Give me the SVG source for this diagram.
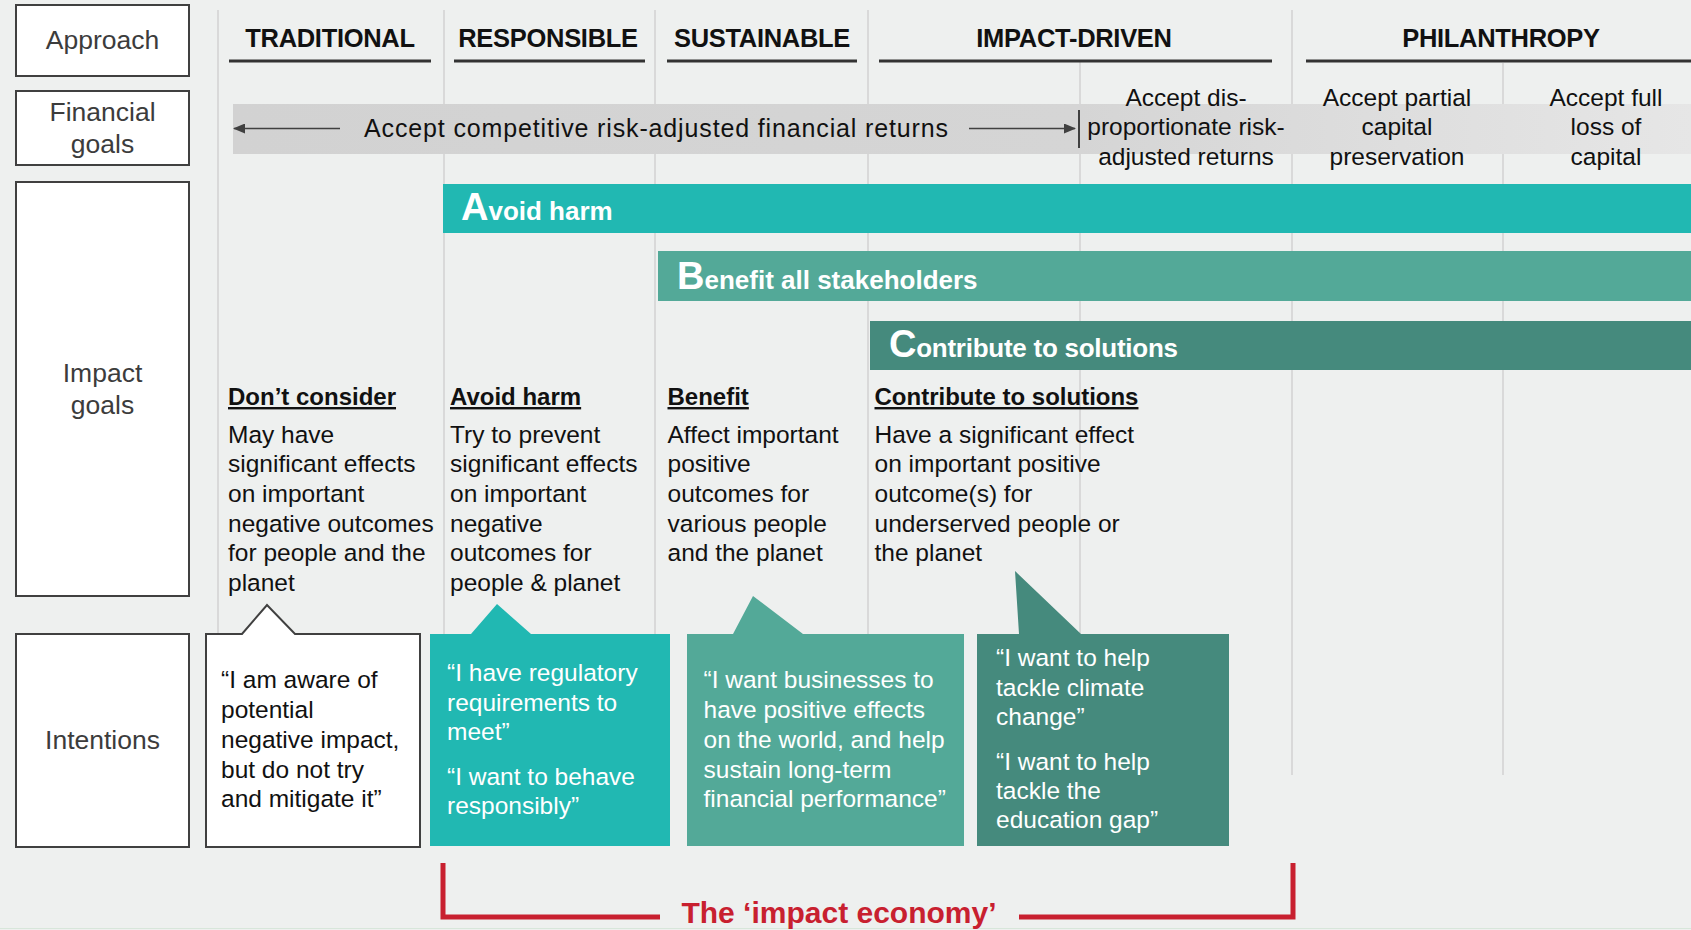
<svg xmlns="http://www.w3.org/2000/svg" width="1691" height="930" viewBox="0 0 1691 930">
<defs>
<linearGradient id="bandGrad" x1="233" y1="0" x2="1691" y2="0" gradientUnits="userSpaceOnUse">
<stop offset="0" stop-color="#d2d2d2"/>
<stop offset="0.58" stop-color="#d5d5d5"/>
<stop offset="1" stop-color="#e6e6e6"/>
</linearGradient>
<marker id="arrowHead" viewBox="0 0 12 10" refX="11" refY="5" markerWidth="12" markerHeight="10" markerUnits="userSpaceOnUse" orient="auto-start-reverse">
<path d="M0,0 L12,5 L0,10 z" fill="#404040"/>
</marker>
<style>
.lbl{fill:#fff;stroke:#404040;stroke-width:2}
.lbltxt{font-family:"Liberation Sans",Arial,sans-serif;font-size:26.5px;fill:#3c3c3c;text-anchor:middle}
.hdr{font-family:"Liberation Sans",Arial,sans-serif;font-size:25.5px;font-weight:bold;fill:#111;text-anchor:middle;letter-spacing:-0.3px}
.hline{stroke:#333;stroke-width:3}
.grid{stroke:#d9d9d9;stroke-width:2}
.fin{font-family:"Liberation Sans",Arial,sans-serif;font-size:25px;fill:#111}
.finc{font-family:"Liberation Sans",Arial,sans-serif;font-size:24.5px;fill:#111;text-anchor:middle}
.bar{font-family:"Liberation Sans",Arial,sans-serif;font-size:26px;font-weight:bold;fill:#fff}
.big{font-size:38px}
.ghd{font-family:"Liberation Sans",Arial,sans-serif;font-size:24px;font-weight:bold;fill:#111;text-decoration:underline}
.body{font-family:"Liberation Sans",Arial,sans-serif;font-size:24.5px;fill:#111}
.wbody{font-family:"Liberation Sans",Arial,sans-serif;font-size:24.5px;fill:#fff}
.conn{stroke:#404040;stroke-width:1.6;fill:none}
.red{stroke:#c8202f;stroke-width:5;fill:none}
.redtxt{font-family:"Liberation Sans",Arial,sans-serif;font-size:30px;font-weight:bold;fill:#c8202f;text-anchor:middle}
</style>
</defs>

<rect x="0" y="0" width="1691" height="930" fill="#eef0ef"/>
<line x1="0" y1="928.5" x2="1691" y2="928.5" stroke="#d7e6da" stroke-width="1"/>

<g id="grid">
<line class="grid" x1="218" y1="10" x2="218" y2="634"/>
<line class="grid" x1="444" y1="10" x2="444" y2="634"/>
<line class="grid" x1="655" y1="10" x2="655" y2="634"/>
<line class="grid" x1="868" y1="10" x2="868" y2="634"/>
<line class="grid" x1="1080" y1="62" x2="1080" y2="634"/>
<line class="grid" x1="1292" y1="10" x2="1292" y2="775"/>
<line class="grid" x1="1503" y1="63" x2="1503" y2="775"/>
</g>

<g id="label-approach">
<rect class="lbl" x="16" y="5" width="173" height="71"/>
<text class="lbltxt" x="102.5" y="49">Approach</text>
</g>
<g id="label-financial">
<rect class="lbl" x="16" y="91" width="173" height="74"/>
<text class="lbltxt" x="102.5" y="121">Financial</text>
<text class="lbltxt" x="102.5" y="153">goals</text>
</g>
<g id="label-impact">
<rect class="lbl" x="16" y="182" width="173" height="414"/>
<text class="lbltxt" x="102.5" y="382">Impact</text>
<text class="lbltxt" x="102.5" y="414">goals</text>
</g>
<g id="label-intentions">
<rect class="lbl" x="16" y="634" width="173" height="213"/>
<text class="lbltxt" x="102.5" y="749">Intentions</text>
</g>

<g id="headers">
<line class="hline" x1="229" y1="61" x2="431" y2="61"/>
<line class="hline" x1="454" y1="61" x2="645" y2="61"/>
<line class="hline" x1="667" y1="61" x2="857" y2="61"/>
<line class="hline" x1="879" y1="61" x2="1272" y2="61"/>
<line class="hline" x1="1306" y1="61" x2="1691" y2="61"/>
<text class="hdr" x="330" y="47">TRADITIONAL</text>
<text class="hdr" x="548" y="47">RESPONSIBLE</text>
<text class="hdr" x="762" y="47">SUSTAINABLE</text>
<text class="hdr" x="1074" y="47">IMPACT-DRIVEN</text>
<text class="hdr" x="1501" y="47">PHILANTHROPY</text>
</g>

<g id="financial-band">
<rect x="233" y="104" width="1458" height="50" fill="url(#bandGrad)"/>
<text class="fin" x="364" y="137" textLength="584">Accept competitive risk-adjusted financial returns</text>
</g>
<g id="financial-disproportionate">
<text class="finc" x="1186" y="105.5">Accept dis-</text>
<text class="finc" x="1186" y="135">proportionate risk-</text>
<text class="finc" x="1186" y="164.5">adjusted returns</text>
</g>
<g id="financial-partial">
<text class="finc" x="1397" y="105.5">Accept partial</text>
<text class="finc" x="1397" y="135">capital</text>
<text class="finc" x="1397" y="164.5">preservation</text>
</g>
<g id="financial-full">
<text class="finc" x="1606" y="105.5">Accept full</text>
<text class="finc" x="1606" y="135">loss of</text>
<text class="finc" x="1606" y="164.5">capital</text>
</g>

<g id="connectors">
<line class="conn" x1="340" y1="128.5" x2="234" y2="128.5" marker-end="url(#arrowHead)"/>
<line class="conn" x1="969" y1="128.5" x2="1075" y2="128.5" marker-end="url(#arrowHead)"/>
<line stroke="#404040" stroke-width="2" x1="1079" y1="110" x2="1079" y2="148"/>
</g>

<g id="bar-avoid-harm">
<rect x="443" y="184" width="1248" height="49" fill="#21b8b2"/>
<text class="bar" x="461" y="220"><tspan class="big">A</tspan>void harm</text>
</g>
<g id="bar-benefit">
<rect x="658" y="251" width="1033" height="50" fill="#53a998"/>
<text class="bar" x="677" y="289"><tspan class="big">B</tspan>enefit all stakeholders</text>
</g>
<g id="bar-contribute">
<rect x="870" y="321" width="821" height="49" fill="#458a7d"/>
<text class="bar" x="889" y="357" textLength="289"><tspan class="big">C</tspan>ontribute to solutions</text>
</g>

<g id="goal-dont-consider">
<text class="ghd" x="228" y="405">Don’t consider</text>
<text class="body">
<tspan x="228" y="442.5">May have</tspan>
<tspan x="228" y="472">significant effects</tspan>
<tspan x="228" y="501.5">on important</tspan>
<tspan x="228" y="531.5">negative outcomes</tspan>
<tspan x="228" y="561">for people and the</tspan>
<tspan x="228" y="591">planet</tspan>
</text>
</g>
<g id="goal-avoid-harm">
<text class="ghd" x="450" y="405">Avoid harm</text>
<text class="body">
<tspan x="450" y="442.5">Try to prevent</tspan>
<tspan x="450" y="472">significant effects</tspan>
<tspan x="450" y="501.5">on important</tspan>
<tspan x="450" y="531.5">negative</tspan>
<tspan x="450" y="561">outcomes for</tspan>
<tspan x="450" y="591">people &amp; planet</tspan>
</text>
</g>
<g id="goal-benefit">
<text class="ghd" x="667.5" y="405">Benefit</text>
<text class="body">
<tspan x="667.5" y="442.5">Affect important</tspan>
<tspan x="667.5" y="472">positive</tspan>
<tspan x="667.5" y="501.5">outcomes for</tspan>
<tspan x="667.5" y="531.5">various people</tspan>
<tspan x="667.5" y="561">and the planet</tspan>
</text>
</g>
<g id="goal-contribute">
<text class="ghd" x="874.5" y="405">Contribute to solutions</text>
<text class="body">
<tspan x="874.5" y="442.5">Have a significant effect</tspan>
<tspan x="874.5" y="472">on important positive</tspan>
<tspan x="874.5" y="501.5">outcome(s) for</tspan>
<tspan x="874.5" y="531.5">underserved people or</tspan>
<tspan x="874.5" y="561">the planet</tspan>
</text>
</g>

<g id="intention-traditional">
<path d="M206,634 H242 L267,605 L295,634 H420 V847 H206 Z" fill="#fff" stroke="#404040" stroke-width="2" stroke-linejoin="miter"/>
<text class="body">
<tspan x="221" y="688">“I am aware of</tspan>
<tspan x="221" y="718">potential</tspan>
<tspan x="221" y="748">negative impact,</tspan>
<tspan x="221" y="777.5">but do not try</tspan>
<tspan x="221" y="807">and mitigate it”</tspan>
</text>
</g>
<g id="intention-responsible">
<path d="M430,634 H471 L497,604 L531,634 H670 V846 H430 Z" fill="#21b8b2"/>
<text class="wbody">
<tspan x="447" y="681">“I have regulatory</tspan>
<tspan x="447" y="711">requirements to</tspan>
<tspan x="447" y="740">meet”</tspan>
<tspan x="447" y="785">“I want to behave</tspan>
<tspan x="447" y="814">responsibly”</tspan>
</text>
</g>
<g id="intention-sustainable">
<path d="M687,634 H733 L753,596 L803,634 H964 V846 H687 Z" fill="#53a998"/>
<text class="wbody">
<tspan x="703.5" y="688">“I want businesses to</tspan>
<tspan x="703.5" y="718">have positive effects</tspan>
<tspan x="703.5" y="748">on the world, and help</tspan>
<tspan x="703.5" y="777.5">sustain long-term</tspan>
<tspan x="703.5" y="807">financial performance”</tspan>
</text>
</g>
<g id="intention-impact">
<path d="M977,634 H1019 L1015,571 L1081,634 H1229 V846 H977 Z" fill="#458a7d"/>
<text class="wbody">
<tspan x="996" y="666">“I want to help</tspan>
<tspan x="996" y="696">tackle climate</tspan>
<tspan x="996" y="725">change”</tspan>
<tspan x="996" y="770">“I want to help</tspan>
<tspan x="996" y="799">tackle the</tspan>
<tspan x="996" y="828">education gap”</tspan>
</text>
</g>

<g id="impact-economy">
<path class="red" d="M443,863 V917 H660"/>
<path class="red" d="M1019,917 H1293 V863"/>
<text class="redtxt" x="839" y="923">The ‘impact economy’</text>
</g>
</svg>
